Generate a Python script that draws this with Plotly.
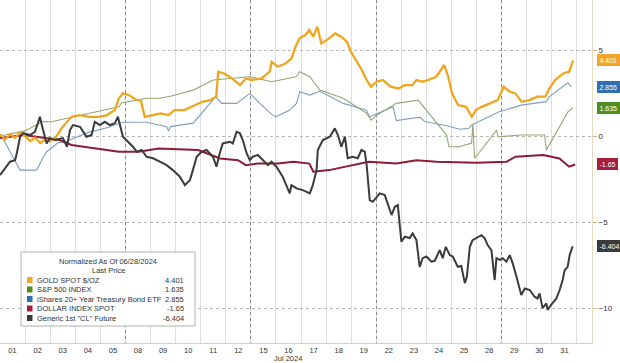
import plotly.graph_objects as go

# ---------------- data (x in trading-day units, day k spans [k, k+1]) ----------------
day_labels = ["01", "02", "03", "04", "05", "08", "09", "10", "11", "12", "15", "16",
              "17", "18", "19", "22", "23", "24", "25", "26", "29", "30", "31"]
month_label = "Jul 2024"

series_names = ["GOLD SPOT $/OZ", "S&P 500 INDEX", "iShares 20+ Year Treasury Bond ETF",
                "DOLLAR INDEX SPOT", "Generic 1st 'CL' Future"]
last_prices = [4.401, 1.635, 2.855, -1.65, -6.404]

gold_x = [0.0, 0.2, 0.4, 0.6, 0.8, 1.0, 1.2, 1.4, 1.6, 1.8, 2.0, 2.2, 2.35, 2.45, 2.85, 3.16,
          3.56, 3.95, 4.27, 4.58, 4.74, 4.90, 5.14, 5.45, 5.61, 5.77, 6.09, 6.40, 6.72, 6.96,
          7.35, 7.75, 8.06, 8.38, 8.62, 8.70, 8.93, 9.25, 9.57, 9.80, 10.04, 10.43, 10.75,
          10.83, 11.07, 11.38, 11.62, 11.78, 11.94, 12.17, 12.33, 12.49, 12.65, 12.81, 13.12,
          13.36, 13.60, 13.83, 13.99, 14.15, 14.39, 14.62, 14.78, 15.02, 15.26, 15.57, 15.89,
          16.13, 16.44, 16.60, 16.84, 17.08, 17.39, 17.71, 17.87, 18.02, 18.26, 18.58, 18.81,
          18.97, 19.21, 19.53, 19.84, 20.08, 20.32, 20.55, 20.79, 21.11, 21.42, 21.74, 21.90,
          22.13, 22.45, 22.69, 22.85]
gold_y = [0.10, -0.20, 0.10, -0.10, 0.20, 0.00, -0.30, -0.10, -0.40, -0.20, -0.30, -0.10, 0.20,
          0.45, 1.12, 1.22, 1.12, 1.12, 1.22, 1.51, 2.19, 2.48, 2.38, 2.09, 2.09, 1.12, 1.22,
          1.32, 1.22, 1.51, 1.51, 1.80, 1.99, 2.09, 2.29, 3.74, 3.64, 3.35, 2.96, 3.35, 3.26,
          3.35, 3.74, 4.32, 4.03, 4.22, 4.51, 5.19, 5.68, 5.87, 6.16, 5.78, 6.36, 5.39, 5.68,
          5.97, 5.78, 5.49, 4.90, 4.51, 3.93, 3.26, 2.87, 3.16, 3.26, 2.87, 2.77, 2.96, 2.96,
          3.26, 3.16, 3.26, 3.45, 4.13, 3.45, 2.48, 1.80, 1.70, 1.12, 1.51, 1.70, 1.90, 2.09,
          2.87, 2.58, 2.48, 1.99, 2.09, 2.29, 2.29, 2.77, 3.26, 3.64, 3.74, 4.401]

spx_x = [0.0, 0.7, 1.0, 1.7, 2.05, 4.74, 4.85, 5.84, 6.37, 6.84, 7.7, 8.5, 9.96, 10.83, 11.8,
         11.95, 12.35, 12.75, 13.68, 14.6, 14.8, 15.0, 15.8, 16.67, 17.8, 17.9, 18.3, 18.8,
         18.85, 18.92, 19.8, 19.85, 20.78, 21.71, 21.78, 22.64, 22.84]
spx_y = [0.0, 0.2, 0.3, 0.85, 0.83, 1.70, 1.92, 2.20, 2.20, 2.33, 2.67, 3.26, 3.45, 3.16, 3.45,
         3.74, 3.45, 2.67, 2.20, 1.34, 0.93, 1.20, 1.90, 2.09, 0.06, -0.62, -0.62, -0.41,
         0.70, -1.29, 0.35, -0.04, 0.06, 0.06, -0.81, 1.40, 1.635]

tlt_x = [0.0, 0.1, 0.8, 1.46, 1.73, 1.86, 2.3, 2.65, 3.5, 4.3, 4.9, 5.85, 6.64, 6.72, 6.8,
         7.7, 8.6, 8.83, 9.43, 9.96, 10.36, 10.83, 11.0, 11.55, 11.82, 11.95, 12.35, 12.75,
         13.68, 14.6, 14.74, 15.67, 15.8, 16.73, 16.93, 17.8, 18.33, 18.7, 18.8, 19.8, 19.9,
         20.78, 21.78, 21.9, 22.64, 22.78]
tlt_y = [0.0, -0.1, -1.98, -1.98, -1.22, -0.91, -0.40, -0.30, 0.20, 0.50, 0.80, 0.80, 0.54,
         0.30, 0.55, 0.75, 2.29, 1.90, 1.90, 2.48, 1.90, 1.26, 1.12, 1.51, 1.90, 2.58, 2.38,
         2.60, 1.90, 1.51, 1.12, 1.70, 0.90, 1.10, 0.85, 0.60, 0.40, 0.45, 0.64, 1.35, 1.41,
         1.80, 2.00, 2.29, 3.10, 2.855]

dxy_x = [0.0, 0.95, 2.37, 2.85, 4.74, 5.53, 6.32, 7.9, 8.77, 9.49, 9.8, 10.28, 11.07, 11.7,
         12.33, 12.49, 13.12, 13.75, 14.7, 15.8, 16.6, 17.4, 19.0, 20.2, 20.55, 21.66, 22.3,
         22.69, 22.93]
dxy_y = [-0.12, 0.06, -0.23, -0.52, -0.91, -0.91, -0.72, -0.81, -1.30, -1.40, -1.69, -1.60,
         -1.60, -1.49, -1.60, -2.07, -1.98, -1.78, -1.49, -1.60, -1.40, -1.49, -1.55, -1.49,
         -1.20, -1.10, -1.30, -1.78, -1.65]

oil_x = [0.00, 0.20, 0.40, 0.60, 0.67, 0.80, 0.92, 1.20, 1.39, 1.51, 1.59, 1.70, 1.86, 1.99,
         2.19, 2.51, 2.67, 2.79, 2.91, 3.19, 3.45, 3.65, 3.78, 3.98, 4.18, 4.38, 4.58, 4.70,
         4.78, 4.90, 5.10, 5.30, 5.45, 5.65, 5.84, 6.10, 6.37, 6.64, 6.89, 7.17, 7.37, 7.57,
         7.69, 7.84, 8.04, 8.24, 8.49, 8.63, 8.76, 8.88, 9.16, 9.28, 9.43, 9.56, 9.68, 9.83,
         9.96, 10.08, 10.28, 10.48, 10.68, 10.82, 11.02, 11.27, 11.55, 11.62, 11.82, 12.07,
         12.35, 12.47, 12.62, 12.67, 12.87, 13.15, 13.35, 13.47, 13.61, 13.75, 13.86, 14.06,
         14.26, 14.41, 14.54, 14.61, 14.74, 14.86, 15.14, 15.34, 15.46, 15.61, 15.74, 15.86,
         16.00, 16.14, 16.33, 16.45, 16.60, 16.73, 16.85, 17.00, 17.20, 17.33, 17.53, 17.65,
         17.77, 17.93, 18.05, 18.25, 18.39, 18.53, 18.61, 18.73, 18.84, 18.99, 19.19, 19.32,
         19.44, 19.59, 19.72, 19.79, 19.92, 20.04, 20.19, 20.32, 20.44, 20.59, 20.78, 20.92,
         21.12, 21.31, 21.43, 21.51, 21.63, 21.78, 21.83, 21.98, 22.18, 22.31, 22.43, 22.51,
         22.63, 22.71, 22.83]
oil_y = [-2.27, -1.86, -1.49, -1.40, -1.00, -0.04, 0.17, 0.06, 0.25, 0.75, 1.12, 0.45, -0.43,
         -0.12, -0.23, -0.12, -0.62, 0.35, 0.64, 0.54, -0.04, 0.06, 0.83, 0.64, 0.83, 0.64,
         0.75, 1.12, 0.64, -0.04, -0.33, -0.62, -0.91, -0.81, -1.20, -1.29, -1.49, -1.69,
         -1.98, -2.36, -2.85, -2.56, -1.98, -1.20, -0.91, -0.81, -1.20, -1.78, -1.00, -0.43,
         -0.33, -0.43, 0.25, 0.17, -0.23, -1.00, -1.40, -1.20, -1.10, -1.40, -1.69, -1.49,
         -1.78, -2.36, -3.33, -2.85, -3.04, -3.14, -3.33, -2.85, -1.98, -0.81, -0.23, -0.04,
         0.45, 0.06, -0.62, -0.04, -1.29, -1.20, -1.29, -0.81, -0.91, -1.59, -3.72, -3.82,
         -3.33, -3.43, -4.01, -4.59, -4.11, -4.01, -6.14, -5.85, -5.93, -5.66, -6.05, -7.60,
         -7.10, -7.00, -7.30, -7.25, -6.63, -7.10, -6.44, -6.92, -7.00, -7.60, -7.55, -8.55,
         -8.18, -6.44, -6.05, -5.93, -5.76, -5.93, -6.34, -6.63, -8.37, -7.10, -7.20, -7.10,
         -7.30, -6.92, -7.40, -8.18, -9.24, -8.86, -8.95, -9.34, -9.44, -9.15, -10.00, -9.73,
         -10.10, -9.80, -9.44, -8.95, -8.37, -7.80, -7.60, -6.92, -6.404]

y_ticks = [5, 0, -5, -10]

# ---------------- styling ----------------
line_colors = ["#f0a51e", "#93a873", "#7f9fbf", "#8e1b35", "#3b3b3b"]
tag_colors = ["#f2a52a", "#4f8e22", "#2f70b3", "#a51d3b", "#3a3a3a"]
line_widths = [2.3, 1.1, 1.1, 2.0, 2.0]
TXT = "rgb(50,50,50)"

xs = [gold_x, spx_x, tlt_x, dxy_x, oil_x]
ys = [gold_y, spx_y, tlt_y, dxy_y, oil_y]
draw_order = [2, 1, 3, 0, 4]

fig = go.Figure()
for i in draw_order:
    fig.add_trace(go.Scatter(x=xs[i], y=ys[i], mode="lines", name=series_names[i],
                             line=dict(color=line_colors[i], width=line_widths[i]),
                             showlegend=False, hoverinfo="skip"))

n_days = len(day_labels)
centers = [k + 0.5 for k in range(n_days)]
day_bounds = list(range(1, n_days + 1))
week_bounds = [k for k in range(1, n_days) if int(day_labels[k]) - int(day_labels[k - 1]) > 1]

x_range = [0, 23.6]
y_range = [-12.03, 7.91]

def fmt(v, i):
    return f"{v:.3f}" if i == 1 else f"{v:g}"

fig.update_layout(
    width=620, height=363,
    margin=dict(l=0, r=28, t=0, b=20),
    paper_bgcolor="white", plot_bgcolor="white",
    font=dict(family="Liberation Sans, Arial, sans-serif", color=TXT),
    xaxis=dict(range=x_range, tickvals=centers, ticktext=day_labels, showgrid=False,
               zeroline=False, ticks="", tickfont=dict(size=7.5, color=TXT),
               showline=True, linecolor="#cfcfcf", linewidth=1,
               minor=dict(tickvals=day_bounds, showgrid=True, gridcolor="#dedede",
                          gridwidth=1, ticks="")),
    xaxis2=dict(range=x_range, overlaying="x", tickvals=week_bounds, showticklabels=False,
                showgrid=True, gridcolor="#8a8a8a", griddash="dot", gridwidth=1,
                zeroline=False, ticks=""),
    yaxis=dict(range=y_range, side="right", tickvals=y_ticks, showgrid=True,
               gridcolor="#b5b5b5", griddash="dot", gridwidth=1, zeroline=False,
               ticks="outside", ticklen=4, tickcolor="#c8b890",
               tickfont=dict(size=8, color=TXT), showline=True, linecolor="#e6dcc0",
               linewidth=1),
)
# invisible trace so the overlay x-axis is rendered
fig.add_trace(go.Scatter(x=[x_range[0]], y=[0], xaxis="x2", mode="markers",
                         marker=dict(opacity=0), showlegend=False, hoverinfo="skip"))

# month label
fig.add_annotation(x=centers[day_labels.index("16")], y=0, xref="x", yref="paper",
                   xanchor="center", yanchor="middle", yshift=-15.5, text=month_label,
                   showarrow=False, font=dict(size=7.5, color=TXT))

# right-hand value tags
for i in range(5):
    fig.add_annotation(x=1, xref="paper", y=last_prices[i], yref="y", xanchor="left",
                       yanchor="middle", xshift=5, text=fmt(last_prices[i], i),
                       showarrow=False, bgcolor=tag_colors[i], bordercolor=tag_colors[i],
                       borderpad=1.5, font=dict(size=7, color="white"))

# custom legend box (pixel layout converted to paper coords; plot area is 592x343)
PW, PH = 592.0, 343.0
def px(x):
    return x / PW
def py(y):
    return 1 - y / PH

fig.add_shape(type="rect", xref="paper", yref="paper", x0=px(21), x1=px(195), y0=py(326),
              y1=py(252), fillcolor="white", line=dict(color="#b0b0b0", width=1))
fig.add_annotation(xref="paper", yref="paper", x=px(108), y=py(261.5), xanchor="center",
                   yanchor="middle", text="Normalized As Of 06/28/2024",
                   showarrow=False, font=dict(size=7.5, color=TXT))
fig.add_annotation(xref="paper", yref="paper", x=px(108), y=py(270.5), xanchor="center",
                   yanchor="middle", text="Last Price",
                   showarrow=False, font=dict(size=7.5, color=TXT))
row_y = [280, 289.5, 299, 308.5, 318]
for i in range(5):
    fig.add_shape(type="rect", xref="paper", yref="paper", x0=px(27), x1=px(32.5),
                  y0=py(row_y[i] + 3), y1=py(row_y[i] - 3), fillcolor=tag_colors[i],
                  line=dict(width=0))
    fig.add_annotation(xref="paper", yref="paper", x=px(35), y=py(row_y[i]), xanchor="left",
                       yanchor="middle", text=series_names[i].replace("'", '"'),
                       showarrow=False, font=dict(size=7.5, color=TXT))
    fig.add_annotation(xref="paper", yref="paper", x=px(186), y=py(row_y[i]), xanchor="right",
                       yanchor="middle", text=fmt(last_prices[i], i),
                       showarrow=False, font=dict(size=7.5, color=TXT))

fig.write_html("out.html", config={"displayModeBar": False},
               post_script="document.body.style.margin='0';document.body.style.overflow='hidden';")
